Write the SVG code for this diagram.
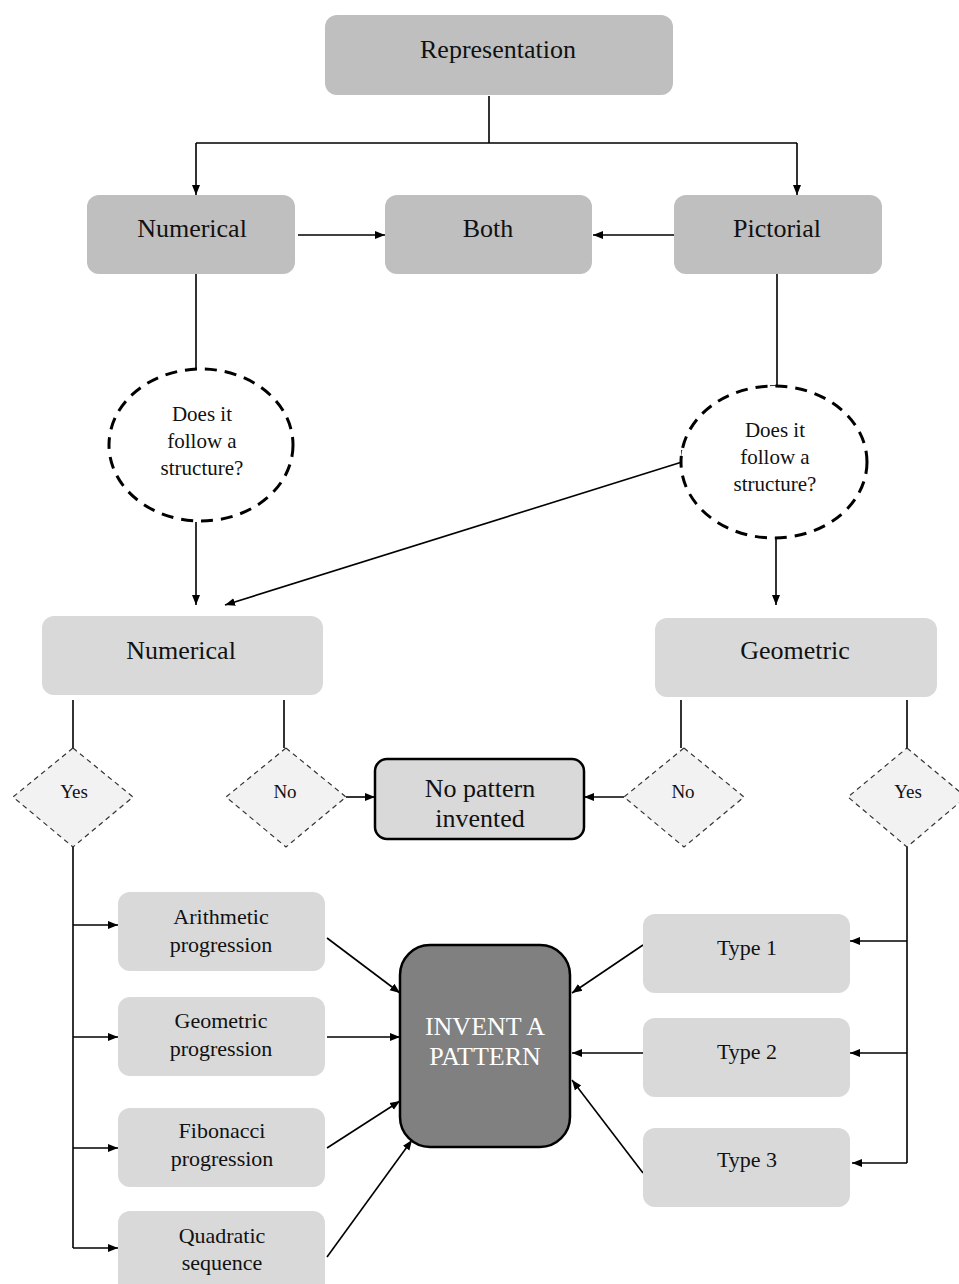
<svg xmlns="http://www.w3.org/2000/svg" width="959" height="1284" viewBox="0 0 959 1284">
<defs>
<marker id="ah" viewBox="0 0 10 10" refX="10" refY="5" markerWidth="10" markerHeight="10" markerUnits="userSpaceOnUse" orient="auto">
<path d="M0,1 L10,5 L0,9 Z" fill="#000"/>
</marker>
</defs>
<style>
text{font-family:"Liberation Serif","Times New Roman",Times,serif;fill:#111;text-anchor:middle}
.big{font-size:26px}
.sm{font-size:22px}
.q{font-size:21px}
.d{font-size:19px}
.b1{fill:#bfbfbf}
.b2{fill:#d9d9d9}
.dia{fill:#f2f2f2;stroke:#333;stroke-width:1.2;stroke-dasharray:5,4}
.circ{fill:#fff;stroke:#000;stroke-width:3;stroke-dasharray:12,8}
.c{fill:none;stroke:#000;stroke-width:1.6}
.a{fill:none;stroke:#000;stroke-width:1.6;marker-end:url(#ah)}
</style>
<rect width="959" height="1284" fill="#fff"/>
<g id="connectors">
<path class="c" d="M489,96 V143 M196,143 H797"/>
<path class="a" d="M196,143 V195"/>
<path class="a" d="M797,143 V195"/>
<path class="a" d="M298,235 H385"/>
<path class="a" d="M674,235 H593"/>
<path class="c" d="M196,274 V369"/>
<path class="c" d="M777,274 V386 H770"/>
<path class="a" d="M196,522 V605"/>
<path class="c" d="M682,450 V462"/>
<path class="a" d="M682,462 L225,605"/>
<path class="a" d="M776,538 V605"/>
<path class="c" d="M73,700 V748 M284,700 V748 M681,700 V748 M907,700 V748"/>
<path class="a" d="M346,797 H375"/>
<path class="a" d="M624,797 H584"/>
<path class="c" d="M73,847 V1248"/>
<path class="a" d="M73,925 H118"/>
<path class="a" d="M73,1037 H118"/>
<path class="a" d="M73,1148 H118"/>
<path class="a" d="M73,1248 H118"/>
<path class="c" d="M907,847 V1163"/>
<path class="a" d="M907,941 H850"/>
<path class="a" d="M907,1053 H850"/>
<path class="a" d="M907,1163 H852"/>
<path class="a" d="M327,938 L400,993"/>
<path class="a" d="M327,1037 H400"/>
<path class="a" d="M327,1148 L400,1101"/>
<path class="a" d="M327,1257 L412,1140"/>
<path class="a" d="M643,945 L572,993"/>
<path class="a" d="M643,1053 H572"/>
<path class="a" d="M643,1173 L572,1080"/>
</g>
<g id="representation"><rect class="b1" x="325" y="15" width="348" height="80" rx="12"/><text class="big" x="498" y="58">Representation</text></g>
<g id="numerical-top"><rect class="b1" x="87" y="195" width="208" height="79" rx="12"/><text class="big" x="192" y="237">Numerical</text></g>
<g id="both"><rect class="b1" x="385" y="195" width="207" height="79" rx="12"/><text class="big" x="488" y="237">Both</text></g>
<g id="pictorial"><rect class="b1" x="674" y="195" width="208" height="79" rx="12"/><text class="big" x="777" y="237">Pictorial</text></g>
<g id="question-left"><ellipse class="circ" cx="201" cy="445" rx="92" ry="76"/><text class="q" x="202" y="421">Does it</text><text class="q" x="202" y="448">follow a</text><text class="q" x="202" y="475">structure?</text></g>
<g id="question-right"><ellipse class="circ" cx="774" cy="462" rx="93" ry="76"/><text class="q" x="775" y="437">Does it</text><text class="q" x="775" y="464">follow a</text><text class="q" x="775" y="491">structure?</text></g>
<g id="numerical-second"><rect class="b2" x="42" y="616" width="281" height="79" rx="12"/><text class="big" x="181" y="659">Numerical</text></g>
<g id="geometric"><rect class="b2" x="655" y="618" width="282" height="79" rx="12"/><text class="big" x="795" y="659">Geometric</text></g>
<g id="yes-left"><polygon class="dia" points="73,748 133,797 73,847 13,797"/><text class="d" x="74" y="798">Yes</text></g>
<g id="no-left"><polygon class="dia" points="286,748 346,797 286,847 226,797"/><text class="d" x="285" y="798">No</text></g>
<g id="no-right"><polygon class="dia" points="684,748 744,797 684,847 624,797"/><text class="d" x="683" y="798">No</text></g>
<g id="yes-right"><polygon class="dia" points="907,748 966,797 907,847 848,797"/><text class="d" x="908" y="798">Yes</text></g>
<g id="no-pattern"><rect x="375" y="759" width="209" height="80" rx="12" fill="#d9d9d9" stroke="#000" stroke-width="2.5"/><text class="big" x="480" y="797">No pattern</text><text class="big" x="480" y="827">invented</text></g>
<g id="arithmetic"><rect class="b2" x="118" y="892" width="207" height="79" rx="12"/><text class="sm" x="221" y="924">Arithmetic</text><text class="sm" x="221" y="952">progression</text></g>
<g id="geometric-prog"><rect class="b2" x="118" y="997" width="207" height="79" rx="12"/><text class="sm" x="221" y="1028">Geometric</text><text class="sm" x="221" y="1056">progression</text></g>
<g id="fibonacci"><rect class="b2" x="118" y="1108" width="207" height="79" rx="12"/><text class="sm" x="222" y="1138">Fibonacci</text><text class="sm" x="222" y="1166">progression</text></g>
<g id="quadratic"><rect class="b2" x="118" y="1211" width="207" height="85" rx="12"/><text class="sm" x="222" y="1243">Quadratic</text><text class="sm" x="222" y="1270">sequence</text></g>
<g id="invent"><rect x="400" y="945" width="170" height="202" rx="30" fill="#808080" stroke="#000" stroke-width="2.5"/><text class="big" x="485" y="1035" style="fill:#fff">INVENT A</text><text class="big" x="485" y="1065" style="fill:#fff">PATTERN</text></g>
<g id="type1"><rect class="b2" x="643" y="914" width="207" height="79" rx="12"/><text class="sm" x="747" y="955">Type 1</text></g>
<g id="type2"><rect class="b2" x="643" y="1018" width="207" height="79" rx="12"/><text class="sm" x="747" y="1059">Type 2</text></g>
<g id="type3"><rect class="b2" x="643" y="1128" width="207" height="79" rx="12"/><text class="sm" x="747" y="1167">Type 3</text></g>
</svg>
